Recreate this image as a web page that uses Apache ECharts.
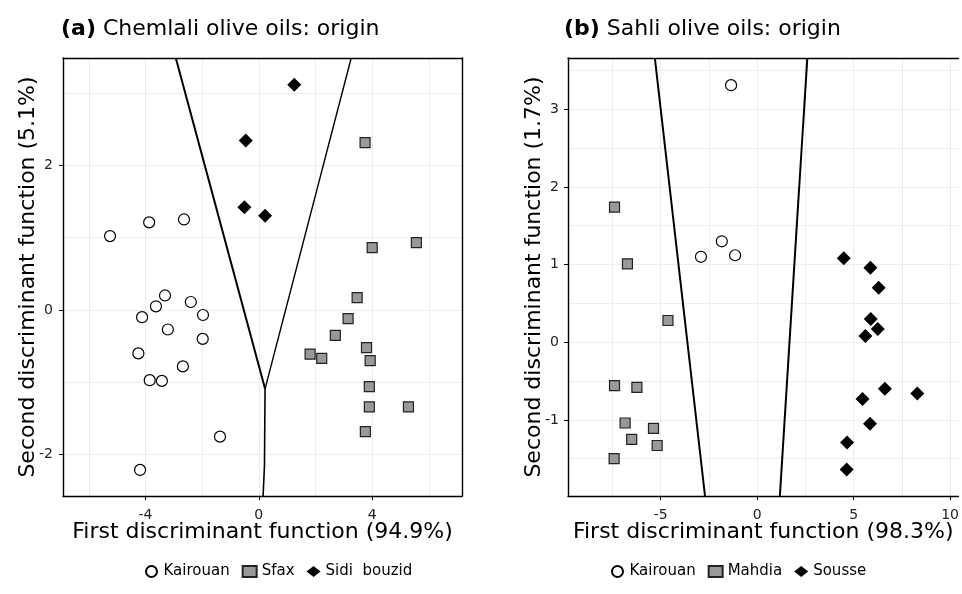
<!DOCTYPE html>
<html><head><meta charset="utf-8">
<script src="https://cdn.jsdelivr.net/npm/echarts@6/dist/echarts.min.js"></script>
<style>html,body{margin:0;padding:0;background:#fff}#c{width:962px;height:594px}</style>
</head><body><div id="c"></div>
<script>
// ---------- Panel (a): Chemlali olive oils ----------
const aKairouan = [[-5.25,1.02],[-3.87,1.21],[-2.64,1.25],[-3.31,0.20],[-3.63,0.05],[-2.40,0.11],[-4.12,-0.10],[-1.97,-0.07],[-3.21,-0.27],[-1.98,-0.40],[-4.25,-0.60],[-2.68,-0.78],[-3.85,-0.97],[-3.42,-0.98],[-1.37,-1.75],[-4.19,-2.21]];
const aSfax = [[3.75,2.31],[4.00,0.86],[5.56,0.93],[3.47,0.17],[3.15,-0.12],[2.70,-0.35],[3.80,-0.52],[1.81,-0.61],[2.22,-0.67],[3.93,-0.70],[3.90,-1.06],[3.90,-1.34],[5.28,-1.34],[3.76,-1.68]];
const aSidi = [[1.25,3.11],[-0.46,2.34],[-0.51,1.42],[0.22,1.30]];
const aBoundLeft = [[-2.93,3.48],[0.22,-1.09]];
const aBoundRight = [[3.26,3.48],[0.22,-1.09]];
const aBoundDown = [[0.22,-1.09],[0.20,-2.15],[0.15,-2.16],[0.15,-2.57]];
const aXRange = [-6.91, 7.17];
const aYRange = [-2.57, 3.48];
const aXLabels = [-4, 0, 4];
const aXGrid = [-6, -4, -2, 0, 2, 4, 6];
const aYLabels = [-2, 0, 2];
const aYGrid = [-2, -1, 0, 1, 2, 3];
const aLegend = ['Kairouan', 'Sfax', 'Sidi  bouzid'];

// ---------- Panel (b): Sahli olive oils ----------
const bKairouan = [[-1.35,3.31],[-1.83,1.30],[-2.91,1.10],[-1.14,1.12]];
const bMahdia = [[-7.39,1.74],[-6.72,1.01],[-4.62,0.28],[-7.39,-0.56],[-6.23,-0.58],[-6.84,-1.04],[-5.37,-1.11],[-6.50,-1.25],[-5.18,-1.33],[-7.41,-1.50]];
const bSousse = [[4.49,1.08],[5.87,0.96],[6.30,0.70],[5.89,0.30],[6.25,0.17],[5.61,0.08],[6.62,-0.60],[8.30,-0.66],[5.46,-0.73],[5.85,-1.05],[4.66,-1.29],[4.64,-1.64]];
const bBoundLeft = [[-5.30,3.66],[-2.70,-1.98]];
const bBoundRight = [[2.60,3.66],[1.18,-1.98]];
const bXRange = [-9.80, 10.43];
const bYRange = [-1.98, 3.66];
const bXLabels = [-5, 0, 5, 10];
const bXGrid = [-7.5, -5, -2.5, 0, 2.5, 5, 7.5, 10];
const bYLabels = [-1, 0, 1, 2, 3];
const bYGrid = [-1.5, -1, -0.5, 0, 0.5, 1, 1.5, 2, 2.5, 3, 3.5];
const bLegend = ['Kairouan', 'Mahdia', 'Sousse'];

const FONT = '"DejaVu Sans", "Liberation Sans", Arial, sans-serif';
const chart = echarts.init(document.getElementById('c'), null, {renderer: 'canvas'});
const BORDER = {color: '#000', width: 1.4};

function dataAxis(gi, range, labels, name, pos, gap, margin) {
  return {
    type: 'value', gridIndex: gi, min: range[0], max: range[1], position: pos,
    name: name, nameLocation: 'middle', nameGap: gap, nameMoveOverlap: false,
    nameTextStyle: {fontFamily: FONT, fontSize: 22, color: '#000'},
    axisLine: {show: true, onZero: false, lineStyle: BORDER},
    axisTick: {show: true, inside: false, length: 4, customValues: labels, lineStyle: {color: '#000', width: 1}},
    axisLabel: {show: true, customValues: labels, margin: margin, fontFamily: FONT, fontSize: 14, color: '#222'},
    splitLine: {show: false}
  };
}
function gridAxis(gi, range, lines, pos, showLine) {
  return {
    type: 'value', gridIndex: gi, min: range[0], max: range[1], position: pos,
    axisLine: {show: showLine, onZero: false, lineStyle: BORDER},
    axisTick: {show: false, customValues: lines},
    axisLabel: {show: false},
    splitLine: {show: true, lineStyle: {color: '#ededed', width: 1}}
  };
}
const circleStyle = {symbol: 'circle', symbolSize: 11, itemStyle: {color: '#fff', borderColor: '#000', borderWidth: 1.2, opacity: 1}};
const squareStyle = {symbol: 'rect', symbolSize: 10, itemStyle: {color: '#999999', borderColor: '#222', borderWidth: 1.2, opacity: 1}};
const diamondStyle = {symbol: 'diamond', symbolSize: 14, itemStyle: {color: '#000', borderWidth: 0, opacity: 1}};

function scatter(name, data, style, gi) {
  return Object.assign({type: 'scatter', name: name, data: data, xAxisIndex: gi * 2, yAxisIndex: gi * 2,
    emphasis: {disabled: true}, z: 5}, style);
}
function bound(data, gi, w) {
  return {type: 'line', data: data, xAxisIndex: gi * 2, yAxisIndex: gi * 2, symbol: 'none',
    lineStyle: {color: '#000', width: w}, silent: true, z: 3};
}
function titleStyle() {
  return {fontWeight: 'normal', fontFamily: FONT, fontSize: 22, color: '#000',
    rich: {b: {fontFamily: FONT, fontWeight: 'bold', fontSize: 22, color: '#000'},
           n: {fontFamily: FONT, fontWeight: 'normal', fontSize: 22, color: '#000'}}};
}
function legendOf(names, left) {
  return {data: names, left: left, top: 559, itemWidth: 14, itemHeight: 11, itemGap: 12, selectedMode: false,
    textStyle: {fontFamily: FONT, fontSize: 15, color: '#000'}};
}

const option = {
  animation: false,
  backgroundColor: '#fff',
  title: [
    {text: '{b|(a)}{n| Chemlali olive oils: origin}', left: 56, top: 13, textStyle: titleStyle()},
    {text: '{b|(b)}{n| Sahli olive oils: origin}', left: 559, top: 13, textStyle: titleStyle()}
  ],
  grid: [
    {left: 63, top: 58, width: 399, height: 438, show: false},
    {left: 568, top: 58, right: 0, height: 438, show: false}
  ],
  xAxis: [
    dataAxis(0, aXRange, aXLabels, 'First discriminant function (94.9%)', 'bottom', 25, 12),
    gridAxis(0, aXRange, aXGrid, 'top', true),
    dataAxis(1, bXRange, bXLabels, 'First discriminant function (98.3%)', 'bottom', 25, 12),
    gridAxis(1, bXRange, bXGrid, 'top', true)
  ],
  yAxis: [
    dataAxis(0, aYRange, aYLabels, 'Second discriminant function (5.1%)', 'left', 24, 10),
    gridAxis(0, aYRange, aYGrid, 'right', true),
    dataAxis(1, bYRange, bYLabels, 'Second discriminant function (1.7%)', 'left', 23, 9),
    gridAxis(1, bYRange, bYGrid, 'right', false)
  ],
  legend: [legendOf(aLegend, 140), legendOf(bLegend, 606)],
  series: [
    bound(aBoundLeft, 0, 2),
    bound(aBoundRight, 0, 1.4),
    bound(aBoundDown, 0, 1.6),
    scatter('Kairouan', aKairouan, circleStyle, 0),
    scatter('Sfax', aSfax, squareStyle, 0),
    scatter('Sidi  bouzid', aSidi, diamondStyle, 0),
    bound(bBoundLeft, 1, 2),
    bound(bBoundRight, 1, 2),
    scatter('Kairouan', bKairouan, circleStyle, 1),
    scatter('Mahdia', bMahdia, squareStyle, 1),
    scatter('Sousse', bSousse, diamondStyle, 1)
  ]
};
chart.setOption(option);
</script>
</body></html>
